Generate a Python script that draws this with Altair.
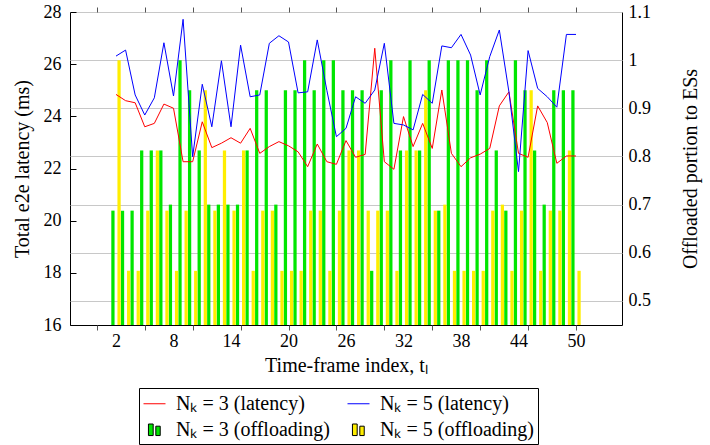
import altair as alt
import pandas as pd

# ---------------- data ----------------
t = list(range(2, 51))

lat_n3 = [24.84, 24.60, 24.52, 23.60, 23.73, 24.47, 24.31, 22.26, 22.26, 23.79,
          22.80, 22.97, 23.18, 22.97, 23.54, 22.58, 22.84, 23.03, 22.87, 22.64,
          22.07, 22.94, 22.26, 22.16, 23.07, 22.43, 22.54, 26.61, 22.26, 21.97,
          23.99, 22.84, 23.73, 22.77, 25.01, 22.58, 22.07, 22.41, 22.55, 22.77,
          24.40, 24.94, 22.58, 22.43, 24.40, 23.76, 22.20, 22.48, 22.48]

lat_n5 = [26.31, 26.54, 24.82, 24.05, 24.71, 26.82, 24.78, 27.72, 22.45, 25.23,
          23.60, 26.13, 23.60, 26.73, 24.75, 24.82, 26.80, 27.09, 26.85, 24.90,
          24.94, 26.93, 25.00, 23.22, 23.54, 24.75, 24.50, 25.01, 26.80, 23.73,
          23.67, 23.48, 24.84, 24.50, 26.70, 26.63, 27.14, 26.35, 24.82, 26.29,
          27.31, 24.94, 21.88, 26.52, 25.07, 24.75, 24.35, 27.14, 27.14]

off_n3 = [0.6875, 0.6875, 0.6875, 0.8125, 0.8125, 0.8125, 0.7, 1.0, 0.9375, 0.8125,
          0.7, 0.7, 0.7, 0.7, 0.8125, 0.9375, 0.9375, 0.7, 0.9375, 0.9375,
          1.0, 0.9375, 1.0, 1.0, 0.9375, 0.9375, 0.9375, 0.5625, 0.9375, 1.0,
          0.8125, 1.0, 0.8125, 1.0, 0.6875, 1.0, 1.0, 1.0, 0.9375, 1.0,
          0.8125, 0.6875, 1.0, 0.9375, 0.8125, 0.7, 0.9375, 0.9375, 0.9375]

off_n5 = [1.0, 0.5625, 0.5625, 0.6875, 0.8125, 0.6875, 0.5625, 0.6875, 0.5625, 0.9375,
          0.6875, 0.8125, 0.6875, 0.8125, 0.5625, 0.6875, 0.6875, 0.5625, 0.5625, 0.5625,
          0.6875, 0.6875, 0.5625, 0.6875, 0.8125, 0.8125, 0.6875, 0.6875, 0.6875, 0.5625,
          0.8125, 0.8125, 0.9375, 0.6875, 0.7, 0.5625, 0.5625, 0.5625, 0.5625, 0.6875,
          0.7, 0.5625, 0.6875, 0.9375, 0.5625, 0.6875, 0.6875, 0.8125, 0.5625]

x_label_values = [2, 8, 14, 20, 26, 32, 38, 44, 50]
x_tick_values = [0, 5, 10, 15, 20, 25, 30, 35, 40, 45, 50]
left_ticks = [16, 18, 20, 22, 24, 26, 28]
right_ticks = [0.5, 0.6, 0.7, 0.8, 0.9, 1.0, 1.1]

S_L3 = "Nₖ = 3 (latency)"
S_L5 = "Nₖ = 5 (latency)"
S_O3 = "Nₖ = 3 (offloading)"
S_O5 = "Nₖ = 5 (offloading)"
C_L3, C_L5, C_O3, C_O5 = "#ff0000", "#0000ff", "#00e600", "#ffee00"

n = len(t)
lines_df = pd.DataFrame({"t": t * 2, "val": lat_n3 + lat_n5,
                         "series": [S_L3] * n + [S_L5] * n})
bars_df = pd.DataFrame({"t": t * 2, "val": off_n3 + off_n5,
                        "series": [S_O3] * n + [S_O5] * n,
                        "side": [-1] * n + [1] * n})

FONT = "Liberation Serif"
BAR_ICON = "M-0.55,-0.5H-0.12V0.55H-0.55Z M0.12,-0.3H0.52V0.55H0.12Z"
PLOT_W, PLOT_H = 552, 313

xs = alt.Scale(domain=[-2.8, 54.8], nice=False, zero=False)
lat_scale = alt.Scale(domain=[16, 28], nice=False, zero=False)
# colour scale (no legend of its own); the legend is drawn from the shape scale
color_scale = alt.Scale(domain=[S_O3, S_O5, S_L3, S_L5], range=[C_O3, C_O5, C_L3, C_L5])

lines = alt.Chart(lines_df).mark_line(strokeWidth=1).encode(
    x=alt.X("t:Q", scale=xs,
            axis=alt.Axis(orient="bottom", values=x_label_values, ticks=False, tickSize=0,
                          domain=False, grid=False, labelPadding=7,
                          title="Time-frame index, tₗ", titleY=40, titleBaseline="middle")),
    y=alt.Y("val:Q", scale=lat_scale,
            axis=alt.Axis(orient="left", values=left_ticks, grid=False, ticks=False, tickSize=0,
                          domain=False, labelPadding=9, title="Total e2e latency (ms)",
                          titleAngle=270, titleX=-48, titleBaseline="middle")),
    color=alt.Color("series:N", scale=color_scale, legend=None),
    detail="series:N",
)

bars = alt.Chart(bars_df).transform_calculate(
    x1="datum.t + datum.side * 0.32 - 0.17",
    x2="datum.t + datum.side * 0.32 + 0.17",
).mark_bar().encode(
    x=alt.X("x1:Q", scale=xs,
            axis=alt.Axis(orient="bottom", values=x_tick_values, labels=False, tickSize=5,
                          tickColor="#555555", domain=False, grid=False, title=None)),
    x2="x2:Q",
    y=alt.Y("val:Q", scale=alt.Scale(domain=[0.45, 1.1], nice=False, zero=False),
            axis=alt.Axis(orient="right", values=right_ticks, format=".1~f", grid=True,
                          gridColor="#c8c8c8", ticks=False, tickSize=0, domain=False,
                          labelPadding=6, title="Offloaded portion to ESs",
                          titleAngle=270, titleX=68, titleBaseline="middle")),
    y2=alt.Y2(datum=0.45),
    color=alt.Color("series:N", scale=color_scale, legend=None),
)

is_off = "(datum && datum.value && indexof(datum.value, 'offloading') >= 0)"
is_3 = "(datum && datum.value && indexof(datum.value, '3') >= 0)"

legend_layer = alt.Chart(lines_df).transform_filter("datum.t < -100").mark_point(filled=True).encode(
    x=alt.X("t:Q", scale=xs,
            axis=alt.Axis(orient="top", values=x_tick_values, labels=False, tickSize=5,
                          tickColor="#555555", domain=False, grid=False, title=None)),
    # inward-pointing tick marks of the latency axis, drawn on the left frame
    y=alt.Y("val:Q", scale=lat_scale,
            axis=alt.Axis(orient="right", offset=-PLOT_W, values=left_ticks, labels=False,
                          tickSize=6, tickColor="black", domain=False, grid=False, title=None)),
    color=alt.Color("series:N", scale=color_scale, legend=None),
    shape=alt.Shape("series:N",
                    scale=alt.Scale(domain=[S_L3, S_L5, S_O3, S_O5],
                                    range=["stroke", "stroke", BAR_ICON, BAR_ICON]),
                    legend=alt.Legend(
                        orient="none", legendX=69, legendY=376, direction="horizontal",
                        columns=2, columnPadding=15, rowPadding=4, padding=4,
                        strokeColor="black", title=None, symbolSize=484, symbolOpacity=1,
                        symbolStrokeWidth=1,
                        labelOffset=10, labelFont=FONT, labelFontSize=20, labelLimit=400,
                        labelColor="black",
                        symbolFillColor={"expr": f"{is_off} ? ({is_3} ? '{C_O3}' : '{C_O5}') : 'transparent'"},
                        symbolStrokeColor={"expr": f"{is_off} ? 'black' : ({is_3} ? '{C_L3}' : '{C_L5}')"},
                    )),
)

chart = alt.layer(bars, lines, legend_layer).resolve_scale(
    y="independent"
).resolve_axis(
    x="independent", y="independent"
).properties(
    width=PLOT_W, height=PLOT_H,
    autosize=alt.AutoSizeParams(type="none"),
    padding={"left": 70, "top": 12, "right": 88, "bottom": 120},
).configure(
    background="white"
).configure_view(
    stroke="black", strokeWidth=1
).configure_axis(
    labelFont=FONT, titleFont=FONT, labelFontSize=18, titleFontSize=20,
    labelColor="black", titleColor="black", titleFontWeight="normal",
)

chart.save("out.html", embed_options={"renderer": "svg", "actions": False})
